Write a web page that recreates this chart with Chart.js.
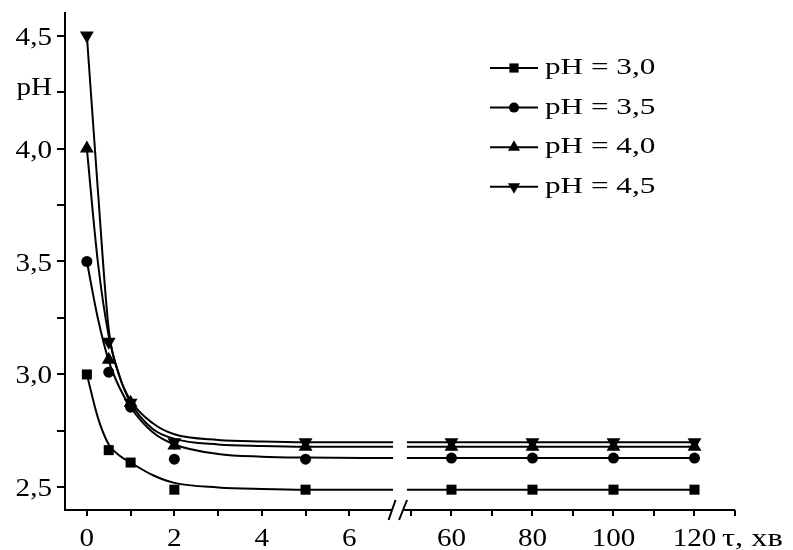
<!DOCTYPE html>
<html><head><meta charset="utf-8">
<script src="https://cdn.jsdelivr.net/npm/chart.js@4.4.1/dist/chart.umd.min.js"></script>
<style>html,body{margin:0;padding:0;background:#fff;}#wrap{width:793px;height:550px;}</style>
</head><body><div id="wrap"><canvas id="c" width="793" height="550"></canvas></div>
<script>
// ---------- data ----------
const seriesLabels = ['pH = 3,0', 'pH = 3,5', 'pH = 4,0', 'pH = 4,5'];
const seriesStyles = ['rect', 'circle', 'triangle', 'triangle'];
const seriesRotation = [0, 0, 0, 180];

const tau   = [0, 0.5, 1, 2, 5, 60, 80, 100, 120];
const pH30  = [3.00, 2.665, 2.61, 2.49, 2.49, 2.49, 2.49, 2.49, 2.49];
const pH35  = [3.50, 3.01, 2.855, 2.625, 2.625, 2.63, 2.63, 2.63, 2.63];
const pH40  = [4.00, 3.065, 2.875, 2.685, 2.68, 2.68, 2.68, 2.68, 2.68];
const pH45  = [4.50, 3.145, 2.875, 2.70, 2.70, 2.70, 2.70, 2.70, 2.70];

// fitted curves (left part of the broken axis)
const fitTau = [0, 0.25, 0.5, 0.75, 1, 1.5, 2, 3, 4, 5, 7];
const fit30  = [3.00, 2.81, 2.69, 2.64, 2.61, 2.555, 2.52, 2.50, 2.493, 2.49, 2.49];
const fit35  = [3.50, 3.25, 3.06, 2.94, 2.855, 2.745, 2.69, 2.648, 2.636, 2.632, 2.63];
const fit40  = [4.00, 3.50, 3.17, 2.99, 2.875, 2.76, 2.715, 2.69, 2.683, 2.68, 2.68];
const fit45  = [4.50, 3.82, 3.20, 2.99, 2.885, 2.785, 2.735, 2.71, 2.703, 2.70, 2.70];
// fitted curves (right part of the broken axis)
const fitRightTau = [49, 120];
const fitRight30 = [2.49, 2.49];
const fitRight35 = [2.63, 2.63];
const fitRight40 = [2.68, 2.68];
const fitRight45 = [2.70, 2.70];

const xTicksLeft  = [0, 1, 2, 3, 4, 5, 6];
const xTicksRight = [50, 60, 70, 80, 90, 100, 110, 120, 130];
const xTickLabels = {0: '0', 2: '2', 4: '4', 6: '6', 60: '60', 80: '80', 100: '100', 120: '120'};
const yTicks = [2.5, 2.75, 3.0, 3.25, 3.5, 3.75, 4.0, 4.25, 4.5];
const yTickLabels = {'2.5': '2,5', '3': '3,0', '3.5': '3,5', '4': '4,0', '4.25': 'pH', '4.5': '4,5'};
const xTitle = 'τ, хв';

// ---------- broken axis mapping ----------
const LEFT_END = 7, RIGHT_START = 50, GAP = 0.41, RIGHT_K = 0.0926;
function V(x) { return x <= 10 ? x : LEFT_END + GAP + (x - RIGHT_START) * RIGHT_K; }

const markerSets = [pH30, pH35, pH40, pH45];
const fitSets = [fit30, fit35, fit40, fit45];
const fitRightSets = [fitRight30, fitRight35, fitRight40, fitRight45];
const radii = {rect: 7.1, circle: 5.5, triangle: 8};

const datasets = [];
for (let i = 0; i < 4; i++) {
  const pts = fitTau.map((t, k) => ({x: V(t), y: fitSets[i][k]}));
  pts.push({x: (V(LEFT_END) + V(RIGHT_START)) / 2, y: null});
  fitRightTau.forEach((t, k) => pts.push({x: V(t), y: fitRightSets[i][k]}));
  datasets.push({
    label: seriesLabels[i] + ' fit', data: pts, showLine: true, spanGaps: false,
    cubicInterpolationMode: 'monotone', borderColor: '#000', borderWidth: 2,
    pointRadius: 0, order: 2
  });
}
for (let i = 0; i < 4; i++) {
  datasets.push({
    label: seriesLabels[i],
    data: tau.map((t, k) => ({x: V(t), y: markerSets[i][k]})),
    showLine: false, pointStyle: seriesStyles[i], rotation: seriesRotation[i],
    pointRadius: radii[seriesStyles[i]], backgroundColor: '#000', borderColor: '#000',
    borderWidth: 0, order: 1
  });
}

const FAMILY = "'Liberation Serif', 'Times New Roman', serif";
function sText(ctx, text, x, y, align, size, stretch) {
  ctx.save();
  ctx.translate(x, y);
  ctx.scale(stretch, 1);
  ctx.textAlign = align;
  ctx.textBaseline = 'alphabetic';
  ctx.fillStyle = '#000';
  ctx.font = size + 'px ' + FAMILY;
  ctx.fillText(text, 0, 0);
  ctx.restore();
}
function drawMarker(ctx, style, rotation, x, y, r) {
  ctx.save();
  ctx.fillStyle = '#000';
  ctx.beginPath();
  if (style === 'rect') {
    const s = Math.SQRT1_2 * r;
    ctx.rect(x - s, y - s, 2 * s, 2 * s);
  } else if (style === 'circle') {
    ctx.arc(x, y, r, 0, Math.PI * 2);
  } else {
    let rad = rotation * Math.PI / 180;
    ctx.moveTo(x + Math.sin(rad) * r, y - Math.cos(rad) * r);
    rad += 2 * Math.PI / 3;
    ctx.lineTo(x + Math.sin(rad) * r, y - Math.cos(rad) * r);
    rad += 2 * Math.PI / 3;
    ctx.lineTo(x + Math.sin(rad) * r, y - Math.cos(rad) * r);
    ctx.closePath();
  }
  ctx.fill();
  ctx.restore();
}

const TICK_SIZE = 26, TICK_STRETCH = 1.12;
const LEG_SIZE = 24, LEG_STRETCH = 1.3;

const decorPlugin = {
  id: 'decor',
  beforeDatasetsDraw(chart) {
    const ctx = chart.ctx, xs = chart.scales.x, ca = chart.chartArea;
    const y = ca.bottom;
    const s1 = xs.getPixelForValue(V(LEFT_END)) - 1;
    const s2 = s1 + 11;
    ctx.save();
    ctx.strokeStyle = '#000';
    ctx.lineWidth = 2;
    ctx.beginPath();
    ctx.moveTo(ca.left - 1, y); ctx.lineTo(s1, y);
    ctx.moveTo(s2 + 1, y); ctx.lineTo(ca.right, y);
    ctx.moveTo(s1 - 3.5, y + 10); ctx.lineTo(s1 + 3.5, y - 10);
    ctx.moveTo(s2 - 4, y + 10); ctx.lineTo(s2 + 4, y - 10);
    ctx.stroke();
    ctx.restore();
  },
  afterDraw(chart) {
    const ctx = chart.ctx, xs = chart.scales.x, ys = chart.scales.y, ca = chart.chartArea;
    // y tick labels
    yTicks.forEach(v => {
      const lab = yTickLabels[String(v)];
      if (!lab) return;
      const py = ys.getPixelForValue(v);
      sText(ctx, lab, ca.left - 13, lab === 'pH' ? py + 3 : py + 9, 'right', TICK_SIZE, TICK_STRETCH);
    });
    // x tick labels
    xTicksLeft.concat(xTicksRight).forEach(v => {
      const lab = xTickLabels[v];
      if (!lab) return;
      sText(ctx, lab, xs.getPixelForValue(V(v)), 546, 'center', TICK_SIZE, TICK_STRETCH);
    });
    sText(ctx, xTitle, ca.right - 13, 546, 'left', TICK_SIZE, 1.25);
    // legend
    const lx0 = 490, lx1 = 538, rowY0 = 68, rowDY = 39.6;
    for (let i = 0; i < 4; i++) {
      const ry = rowY0 + i * rowDY;
      ctx.save();
      ctx.strokeStyle = '#000'; ctx.lineWidth = 2;
      ctx.beginPath(); ctx.moveTo(lx0, ry); ctx.lineTo(lx1, ry); ctx.stroke();
      ctx.restore();
      const st = seriesStyles[i];
      drawMarker(ctx, st, seriesRotation[i], (lx0 + lx1) / 2, ry, st === 'triangle' ? 7 : (st === 'rect' ? 6.5 : 5));
      sText(ctx, seriesLabels[i], 545, ry + 6, 'left', LEG_SIZE, LEG_STRETCH);
    }
  }
};

new Chart(document.getElementById('c').getContext('2d'), {
  type: 'scatter',
  data: {datasets},
  options: {
    responsive: false, animation: false, devicePixelRatio: 1,
    layout: {padding: {top: 13, right: 58, left: 0, bottom: 0}},
    plugins: {legend: {display: false}, tooltip: {enabled: false}},
    scales: {
      x: {
        type: 'linear', min: -0.5, max: V(130),
        afterBuildTicks: s => { s.ticks = xTicksLeft.concat(xTicksRight).map(v => ({value: V(v)})); },
        afterFit: s => { s.height = 40; },
        ticks: {display: false, autoSkip: false},
        grid: {drawOnChartArea: false, drawTicks: true, tickLength: 6, color: '#000', lineWidth: 2},
        border: {display: false}
      },
      y: {
        type: 'linear', min: 2.4, max: 4.6,
        afterBuildTicks: s => { s.ticks = yTicks.map(v => ({value: v})); },
        afterFit: s => { s.width = 65; },
        ticks: {display: false, autoSkip: false},
        grid: {drawOnChartArea: false, drawTicks: true, tickLength: 8, color: '#000', lineWidth: 2},
        border: {display: true, color: '#000', width: 2}
      }
    }
  },
  plugins: [decorPlugin]
});
</script>
</body></html>
